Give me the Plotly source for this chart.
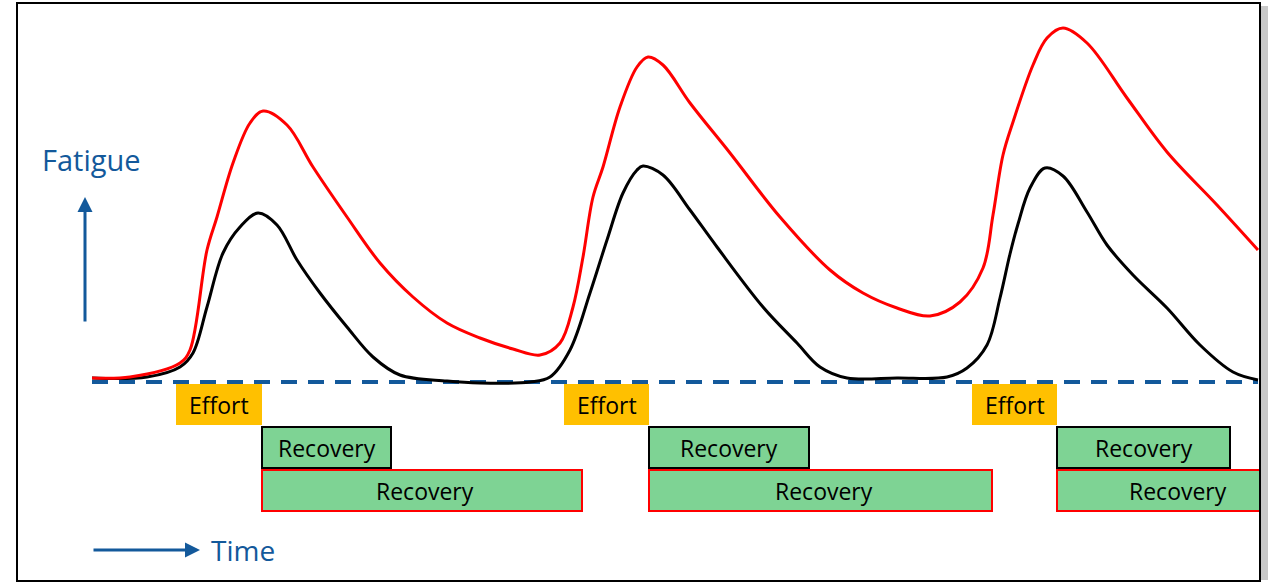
import plotly.graph_objects as go

# ---- data (time on x, fatigue above baseline on y) ----
red_t = [92, 130, 180, 190, 207, 217, 233, 250, 263, 287, 313, 347, 380, 413, 447, 480, 513, 540,
         560, 573, 583, 593, 603, 620, 637, 648, 663, 690, 730, 780, 830, 863, 897, 930,
         960, 983, 993, 1003, 1013, 1033, 1047, 1063, 1087, 1127, 1167, 1217, 1258]
red_f = [4, 5, 19, 32, 132, 165, 219, 259, 271, 257, 215, 165, 119, 85, 59, 44, 33, 27,
         39, 75, 125, 185, 215, 275, 315, 325, 317, 279, 229, 165, 112, 89, 74, 66,
         80, 114, 167, 227, 260, 317, 344, 354, 339, 284, 230, 177, 132]

black_t = [92, 147, 180, 193, 207, 223, 240, 258, 277, 297, 320, 347, 373, 400, 447, 480, 530,
           550, 570, 590, 607, 623, 637, 643, 663, 690, 717, 763, 797, 820, 847, 897, 947,
           967, 987, 1000, 1010, 1018, 1030, 1045, 1063, 1087, 1107, 1133, 1167, 1200, 1233, 1258]
black_f = [4, 5, 15, 29, 75, 129, 155, 169, 157, 122, 89, 55, 25, 7, 1, -1, 0,
           5, 32, 89, 142, 189, 212, 216, 207, 172, 135, 75, 39, 15, 4, 4, 5,
           14, 37, 84, 128, 158, 194, 214, 206, 170, 137, 107, 74, 37, 10, 2]

effort_start = [176, 564, 972]
effort_end = [262, 649, 1057]
rec_short_end = [391, 809, 1230]
rec_long_end = [582, 992, 1292]

BLUE = "#13599b"
GREEN = "#7ed394"
ORANGE = "#ffc000"

T_MIN, T_MAX = 0, 1274
F_MIN, F_MAX = -201, 382
FRAME_R = 1260

fig = go.Figure()

fig.add_trace(go.Scatter(x=black_t, y=black_f, mode="lines",
                         line=dict(color="black", width=3, shape="spline", smoothing=1.0),
                         hoverinfo="skip", showlegend=False))
fig.add_trace(go.Scatter(x=red_t, y=red_f, mode="lines",
                         line=dict(color="#ff0000", width=3, shape="spline", smoothing=1.0),
                         hoverinfo="skip", showlegend=False))

shapes = []
annotations = []

# baseline
shapes.append(dict(type="line", xref="x", yref="y", x0=92, x1=1258, y0=0, y1=0,
                   line=dict(color=BLUE, width=4, dash="16px,11px"), layer="below"))

FONT = "Open Sans"
for s, e, rs, rl in zip(effort_start, effort_end, rec_short_end, rec_long_end):
    shapes.append(dict(type="rect", xref="x", yref="y", x0=s, x1=e, y0=-43, y1=-2,
                       fillcolor=ORANGE, line=dict(width=0)))
    annotations.append(dict(x=(s + e) / 2, y=-23, xref="x", yref="y", text="Effort",
                            showarrow=False, font=dict(family=FONT, size=23, color="black")))
    shapes.append(dict(type="rect", xref="x", yref="y", x0=e, x1=rs, y0=-86, y1=-45,
                       fillcolor=GREEN, line=dict(color="black", width=2)))
    annotations.append(dict(x=(e + rs) / 2, y=-66, xref="x", yref="y", text="Recovery",
                            showarrow=False, font=dict(family=FONT, size=23, color="black")))
    shapes.append(dict(type="rect", xref="x", yref="y", x0=e, x1=min(rl, FRAME_R), y0=-129, y1=-88,
                       fillcolor=GREEN, line=dict(color="#ff0000", width=2)))
    annotations.append(dict(x=(e + rl) / 2 + 3, y=-109, xref="x", yref="y", text="Recovery",
                            showarrow=False, font=dict(family=FONT, size=23, color="black")))

# shadow and frame (on top, clipping the last box)
shapes.append(dict(type="rect", xref="x", yref="y", x0=1261, x1=1268, y0=F_MIN + 3, y1=F_MAX - 6,
                   fillcolor="#c8c8c8", line=dict(width=0)))
shapes.append(dict(type="rect", xref="x", yref="y", x0=17, x1=FRAME_R, y0=F_MIN + 2, y1=F_MAX - 3,
                   fillcolor="rgba(0,0,0,0)", line=dict(color="black", width=2)))

# axis arrows and labels
annotations.append(dict(x=85, y=185, ax=85, ay=59, xref="x", yref="y", axref="x", ayref="y",
                        text="", showarrow=True, arrowhead=2, arrowsize=1, arrowwidth=3,
                        arrowcolor=BLUE))
annotations.append(dict(x=200, y=-168, ax=92, ay=-168, xref="x", yref="y", axref="x", ayref="y",
                        text="", showarrow=True, arrowhead=2, arrowsize=1, arrowwidth=3,
                        arrowcolor=BLUE))
annotations.append(dict(x=91, y=223, xref="x", yref="y", text="Fatigue", showarrow=False,
                        font=dict(family=FONT, size=29, color=BLUE)))
annotations.append(dict(x=209, y=-168, xref="x", yref="y", text="Time", showarrow=False,
                        xanchor="left", font=dict(family=FONT, size=28, color=BLUE)))

fig.update_layout(
    width=1274, height=583,
    margin=dict(l=0, r=0, t=0, b=0),
    paper_bgcolor="white", plot_bgcolor="white",
    xaxis=dict(range=[T_MIN, T_MAX], visible=False, fixedrange=True),
    yaxis=dict(range=[F_MIN, F_MAX], visible=False, fixedrange=True),
    shapes=shapes, annotations=annotations, showlegend=False,
)

fig.write_html("out.html", config={"displayModeBar": False},
               post_script="document.body.style.margin='0';document.body.style.overflow='hidden';")
